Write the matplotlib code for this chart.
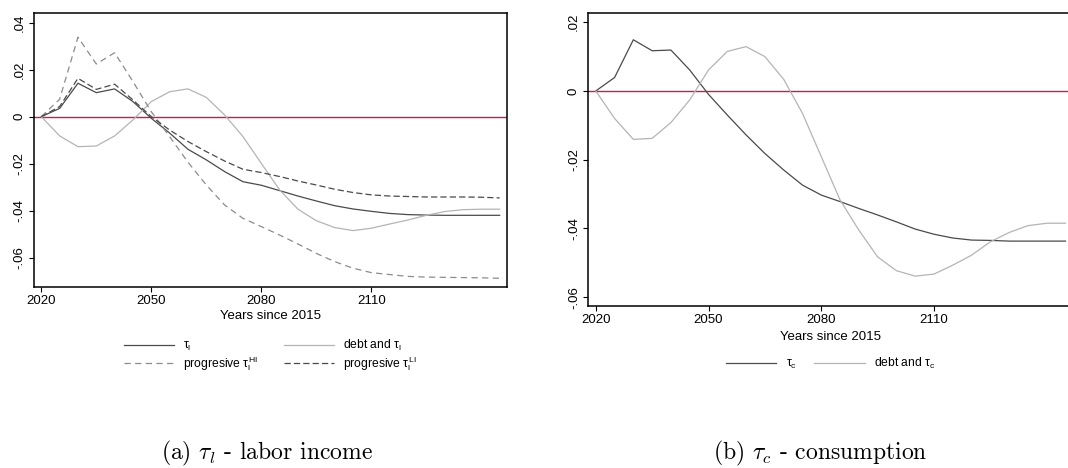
import matplotlib.pyplot as plt
from matplotlib.ticker import FixedLocator

plt.rcParams['font.family'] = ['Liberation Sans', 'DejaVu Sans']
plt.rcParams['mathtext.fontset'] = 'custom'
plt.rcParams['mathtext.rm'] = 'Liberation Sans'
plt.rcParams['mathtext.it'] = 'Liberation Sans'

years = list(range(2020, 2150, 5))

# labor income tax experiments
tau_l = [0.0, 0.0035, 0.0142, 0.0102, 0.0118, 0.0064, -0.0007, -0.0070, -0.0139, -0.0184,
         -0.0234, -0.0277, -0.0292, -0.0315, -0.0338, -0.0359, -0.0379, -0.0393, -0.0403,
         -0.0412, -0.0417, -0.0419, -0.0420, -0.0420, -0.0420, -0.0420]
debt_tau_l = [0.0, -0.0082, -0.0128, -0.0125, -0.0082, -0.0014, 0.0064, 0.0106, 0.0118, 0.0082,
              0.0007, -0.0085, -0.0199, -0.0312, -0.0394, -0.0443, -0.0472, -0.0485, -0.0475,
              -0.0457, -0.0440, -0.0420, -0.0404, -0.0396, -0.0394, -0.0394]
prog_hi = [0.0, 0.0074, 0.0338, 0.0224, 0.0272, 0.0149, 0.0021, -0.0085, -0.0194, -0.0291,
           -0.0376, -0.0433, -0.0468, -0.0504, -0.0542, -0.0582, -0.0617, -0.0645, -0.0664,
           -0.0672, -0.0680, -0.0683, -0.0684, -0.0685, -0.0686, -0.0688]
prog_li = [0.0, 0.0043, 0.0163, 0.0116, 0.0138, 0.0071, 0.0000, -0.0057, -0.0106, -0.0149,
           -0.0189, -0.0224, -0.0238, -0.0255, -0.0274, -0.0291, -0.0309, -0.0323, -0.0333,
           -0.0338, -0.0340, -0.0342, -0.0342, -0.0342, -0.0343, -0.0346]

# consumption tax experiments
tau_c = [0.0, 0.0039, 0.0149, 0.0117, 0.0119, 0.0061, -0.0010, -0.0070, -0.0128, -0.0182,
         -0.0230, -0.0274, -0.0303, -0.0322, -0.0342, -0.0361, -0.0381, -0.0402, -0.0417,
         -0.0428, -0.0434, -0.0435, -0.0437, -0.0437, -0.0437, -0.0437]
debt_tau_c = [0.0, -0.0080, -0.0141, -0.0138, -0.0092, -0.0026, 0.0061, 0.0115, 0.0129, 0.0100,
              0.0034, -0.0065, -0.0191, -0.0317, -0.0405, -0.0483, -0.0523, -0.0539, -0.0533,
              -0.0507, -0.0478, -0.0439, -0.0412, -0.0392, -0.0385, -0.0385]

xticks = [2020, 2050, 2080, 2110]
yticks_l = [0.04, 0.02, 0.0, -0.02, -0.04, -0.06]
ytick_labels_l = ['.04', '.02', '0', '-.02', '-.04', '-.06']
yticks_c = [0.02, 0.0, -0.02, -0.04, -0.06]
ytick_labels_c = ['.02', '0', '-.02', '-.04', '-.06']

DARK = '#4a4a4a'
LIGHT = '#b4b4b4'
MID = '#8c8c8c'
RED = '#d4174a'

fig = plt.figure(figsize=(10.68, 4.68), dpi=100)
ax1 = fig.add_axes([0.0318, 0.3868, 0.4429, 0.5854])
ax2 = fig.add_axes([0.5508, 0.3468, 0.4539, 0.6248])


def style_axes(ax, yticks, ylabels, ylim):
    ax.set_xlim(2018, 2147)
    ax.set_ylim(*ylim)
    ax.xaxis.set_major_locator(FixedLocator(xticks))
    ax.set_xticklabels([str(x) for x in xticks], fontsize=9.5)
    ax.yaxis.set_major_locator(FixedLocator(yticks))
    ax.set_yticklabels(ylabels, fontsize=9.5, rotation=90, va='center')
    ax.tick_params(direction='out', length=3.5, width=0.8, pad=2.5, colors='black')
    for s in ax.spines.values():
        s.set_linewidth(1.1)
    ax.axhline(0, color=RED, lw=1.0, zorder=1)
    ax.set_xlabel('Years since 2015', fontsize=9.5)
    ax.xaxis.set_label_coords(0.5, -0.085)


style_axes(ax1, yticks_l, ytick_labels_l, (-0.0725, 0.0441))
h1, = ax1.plot(years, tau_l, color=DARK, lw=0.9, label=r'$\tau_{\mathregular{l}}$')
h2, = ax1.plot(years, debt_tau_l, color=LIGHT, lw=0.9, label=r'debt and $\tau_{\mathregular{l}}$')
h3, = ax1.plot(years, prog_hi, color=MID, lw=0.9, dashes=(5, 3.5),
               label=r'progresive $\tau_{\mathregular{l}}^{\mathregular{HI}}$')
h4, = ax1.plot(years, prog_li, color=DARK, lw=0.9, dashes=(5, 2.5),
               label=r'progresive $\tau_{\mathregular{l}}^{\mathregular{LI}}$')
# legend fills column by column, so order handles to read row-wise
ax1.legend(handles=[h1, h3, h2, h4], loc='upper center', bbox_to_anchor=(0.5, -0.165),
           ncol=2, frameon=False, fontsize=8.7, handlelength=4.1, handletextpad=0.75,
           columnspacing=2.2, labelspacing=0.05, borderpad=0)

style_axes(ax2, yticks_c, ytick_labels_c, (-0.0625, 0.0226))
ax2.spines['right'].set_visible(False)
ax2.plot(years, tau_c, color=DARK, lw=0.9, label=r'$\tau_{\mathregular{c}}$')
ax2.plot(years, debt_tau_c, color=LIGHT, lw=0.9, label=r'debt and $\tau_{\mathregular{c}}$')
ax2.legend(loc='upper center', bbox_to_anchor=(0.5, -0.152), ncol=2, frameon=False,
           fontsize=8.7, handlelength=4.2, handletextpad=0.8, columnspacing=1.4,
           borderpad=0)

cap_kw = dict(fontsize=17, ha='center', va='center', family='cmr10', math_fontfamily='cm')
fig.text(267 / 1068, 1 - 453 / 468, r'(a) $\tau_l$ - labor income', **cap_kw)
fig.text(820 / 1068, 1 - 453 / 468, r'(b) $\tau_c$ - consumption', **cap_kw)

fig.savefig('out.png', dpi=100)
